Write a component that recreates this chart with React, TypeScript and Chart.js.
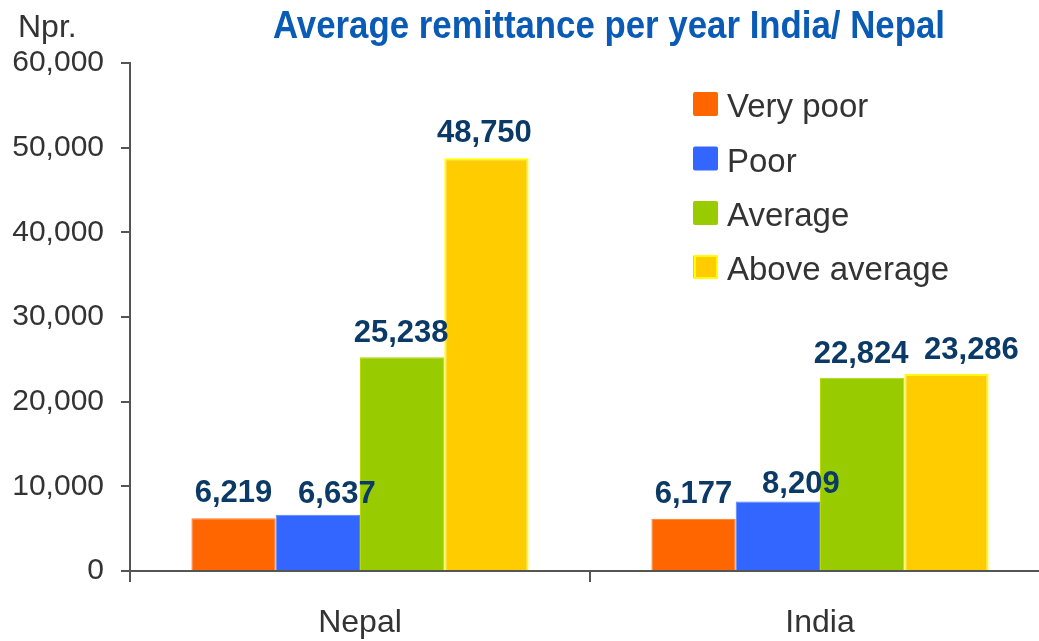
import React, { useEffect, useRef } from 'react';
import { Chart, registerables } from 'chart.js';

Chart.register(...registerables);

// ---- Data ----
const categories = ['Nepal', 'India'];
const seriesNames = ['Very poor', 'Poor', 'Average', 'Above average'];
const veryPoor = [6219, 6177];
const poor = [6637, 8209];
const average = [25238, 22824];
const aboveAverage = [48750, 23286];
const yMin = 0;
const yMax = 60000;
const yStep = 10000;
const titleText = 'Average remittance per year India/ Nepal';
const unitText = 'Npr.';

// ---- Styles ----
const fills = ['#FF6600', '#3366FF', '#99CC00', '#FFCC00'];
const borders = ['#FF7A26', '#5580FF', '#B5D800', '#FFFF00'];
const borderWidths = [1, 1, 1, 2];
// label nudges (style only), per series per category
const labelDx = [[0, 0], [19, 23], [-1, -1], [-2, 25]];
const labelDy = [[16, 16], [12, 8], [15, 15], [16, 15]];

const FONT = '"Liberation Sans", Arial, Helvetica, sans-serif';

const overlayPlugin = {
  id: 'overlay',
  afterDatasetsDraw(chart: any) {
    const ctx = chart.ctx;
    ctx.save();
    ctx.font = `bold 31px ${FONT}`;
    ctx.fillStyle = '#0B3A66';
    ctx.textAlign = 'center';
    ctx.textBaseline = 'alphabetic';
    chart.data.datasets.forEach((ds: any, i: number) => {
      const meta = chart.getDatasetMeta(i);
      meta.data.forEach((bar: any, j: number) => {
        const v = ds.data[j] as number;
        ctx.fillText(v.toLocaleString('en-US'), bar.x + labelDx[i][j], bar.y - labelDy[i][j]);
      });
    });
    ctx.restore();
  },
  afterDraw(chart: any) {
    const ctx = chart.ctx;
    const area = chart.chartArea;
    ctx.save();
    // Title (condensed)
    ctx.font = `bold 39px ${FONT}`;
    ctx.fillStyle = '#0A5BB5';
    ctx.textBaseline = 'alphabetic';
    ctx.textAlign = 'center';
    const w = ctx.measureText(titleText).width;
    const targetW = 672;
    ctx.translate(609, 38);
    ctx.scale(targetW / w, 1);
    ctx.fillText(titleText, 0, 0);
    ctx.setTransform(1, 0, 0, 1, 0, 0);

    // Unit label
    ctx.font = `32px ${FONT}`;
    ctx.fillStyle = '#333333';
    ctx.textAlign = 'left';
    ctx.fillText(unitText, 18, 37);

    // Legend
    const lx = area.left + 563;
    const rowBase = [117, 171.5, 226, 280];
    ctx.font = `33px ${FONT}`;
    chart.data.datasets.forEach((ds: any, i: number) => {
      const base = rowBase[i];
      const bx = lx;
      const by = base - 25;
      ctx.fillStyle = ds.backgroundColor;
      ctx.beginPath();
      if ((ctx as any).roundRect) (ctx as any).roundRect(bx, by, 25, 24, 2);
      else ctx.rect(bx, by, 25, 24);
      ctx.fill();
      if (i === 3) {
        ctx.strokeStyle = ds.borderColor;
        ctx.lineWidth = 2;
        ctx.strokeRect(bx + 2, by + 1, 22, 22);
      }
      ctx.fillStyle = '#333333';
      ctx.fillText(ds.label, bx + 34, base);
    });
    ctx.restore();
  },
};

export default function App() {
  const canvasRef = useRef<HTMLCanvasElement | null>(null);

  useEffect(() => {
    const canvas = canvasRef.current;
    if (!canvas) return;
    const series = [veryPoor, poor, average, aboveAverage];
    const chart = new Chart(canvas, {
      type: 'bar',
      data: {
        labels: categories,
        datasets: series.map((d, i) => ({
          label: seriesNames[i],
          data: d,
          backgroundColor: fills[i],
          borderColor: borders[i],
          borderWidth: borderWidths[i],
          categoryPercentage: 0.733,
          barPercentage: 1.0,
        })),
      },
      options: {
        responsive: false,
        animation: false,
        devicePixelRatio: 1,
        layout: { padding: { top: 63, right: 10, left: 0, bottom: 0 } },
        plugins: {
          legend: { display: false },
          title: { display: false },
          tooltip: { enabled: false },
        },
        scales: {
          x: {
            grid: {
              display: true,
              drawOnChartArea: false,
              drawTicks: true,
              tickLength: 11,
              color: '#555555',
              lineWidth: 2,
              offset: true,
            },
            border: { display: true, color: '#555555', width: 2 },
            ticks: {
              font: { size: 32, family: FONT },
              color: '#333333',
              padding: 22,
            },
            afterFit: (s: any) => {
              s.height = 70;
            },
          },
          y: {
            min: yMin,
            max: yMax,
            ticks: {
              stepSize: yStep,
              callback: (v: any) => Number(v).toLocaleString('en-US'),
              font: { size: 30, family: FONT },
              color: '#333333',
              padding: 17,
            },
            grid: {
              display: true,
              drawOnChartArea: false,
              drawTicks: true,
              tickLength: 9,
              color: '#555555',
              lineWidth: 2,
            },
            border: { display: true, color: '#555555', width: 2 },
            afterFit: (s: any) => {
              s.width = 130;
            },
          },
        },
      },
      plugins: [overlayPlugin],
    });
    return () => chart.destroy();
  }, []);

  return (
    <div
      style={{
        position: 'absolute',
        left: 0,
        top: 0,
        width: 1039,
        height: 641,
        overflow: 'hidden',
        background: '#ffffff',
      }}
    >
      <canvas ref={canvasRef} width={1060} height={641} style={{ display: 'block' }} />
    </div>
  );
}
